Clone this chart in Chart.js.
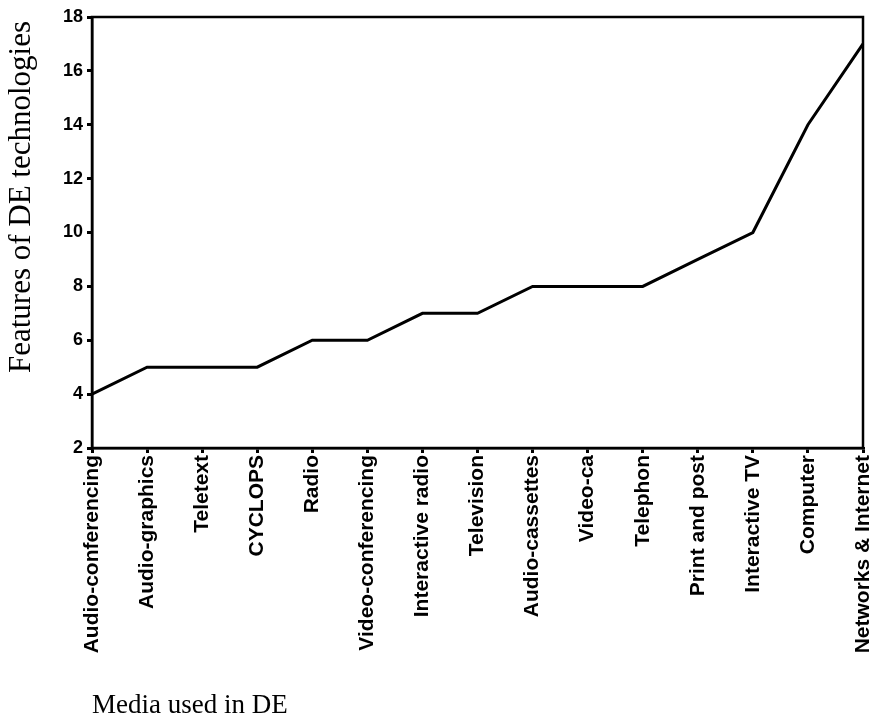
<!DOCTYPE html>
<html>
<head>
<meta charset="utf-8">
<script src="https://cdn.jsdelivr.net/npm/chart.js@4/dist/chart.umd.min.js"></script>
<style>
  html, body { margin: 0; padding: 0; background: #fff; }
  #wrap { width: 870px; height: 718px; position: relative; }
</style>
</head>
<body>
<div id="wrap"><canvas id="c" width="870" height="718"></canvas></div>
<script>
const categories = ["Audio-conferencing", "Audio-graphics", "Teletext", "CYCLOPS", "Radio",
  "Video-conferencing", "Interactive radio", "Television", "Audio-cassettes", "Video-ca",
  "Telephon", "Print and post", "Interactive TV", "Computer", "Networks & Internet"];
const features = [4, 5, 5, 5, 6, 6, 7, 7, 8, 8, 8, 9, 10, 14, 17];
const yTicks = [2, 4, 6, 8, 10, 12, 14, 16, 18];
const yTitle = "Features of DE technologies";
const xTitle = "Media used in DE";

const frame = {
  id: 'frame',
  afterDraw(chart) {
    const { ctx, chartArea: a } = chart;
    ctx.save();
    ctx.strokeStyle = '#000';
    ctx.lineWidth = 2.5;
    ctx.strokeRect(a.left, a.top, a.right - a.left, a.bottom - a.top);
    ctx.fillStyle = '#000';
    ctx.font = '27px "Liberation Serif", "Times New Roman", serif';
    ctx.textAlign = 'left';
    ctx.textBaseline = 'alphabetic';
    ctx.fillText(xTitle, a.left, 713);
    ctx.translate(22, 197);
    ctx.rotate(-Math.PI / 2);
    ctx.font = '31px "Liberation Serif", "Times New Roman", serif';
    ctx.textAlign = 'center';
    ctx.textBaseline = 'middle';
    ctx.fillText(yTitle, 0, 0);
    ctx.restore();
  }
};

new Chart(document.getElementById('c'), {
  type: 'line',
  data: {
    labels: categories,
    datasets: [{
      data: features,
      borderColor: '#000',
      borderWidth: 3,
      pointRadius: 0,
      tension: 0,
      fill: false
    }]
  },
  options: {
    responsive: false,
    animation: false,
    layout: { padding: { top: 17, right: 7, left: 0, bottom: 0 } },
    plugins: { legend: { display: false }, tooltip: { enabled: false } },
    scales: {
      x: {
        offset: false,
        grid: { display: true, drawOnChartArea: false, drawTicks: true, tickLength: 5, color: '#000', lineWidth: 3 },
        border: { display: true, color: '#000', width: 2.5 },
        ticks: {
          color: '#000',
          font: { family: '"Liberation Sans", Arial', size: 21, weight: 'bold' },
          minRotation: 90, maxRotation: 90, autoSkip: false, padding: 2
        },
        afterFit(scale) {
          scale.height = 718 - 17 - 431;
          scale.paddingLeft = 0;
          scale.paddingRight = 0;
        }
      },
      y: {
        min: 2, max: 18,
        afterBuildTicks(scale) { scale.ticks = yTicks.map(v => ({ value: v })); },
        grid: { display: true, drawOnChartArea: false, drawTicks: true, tickLength: 5, color: '#000', lineWidth: 3 },
        border: { display: true, color: '#000', width: 2.5 },
        ticks: {
          color: '#000',
          font: { family: '"Liberation Sans", Arial', size: 18, weight: 'bold' },
          padding: 4
        },
        afterFit(scale) {
          scale.width = 92;
          scale.paddingTop = 0;
          scale.paddingBottom = 0;
        }
      }
    }
  },
  plugins: [frame]
});
</script>
</body>
</html>
